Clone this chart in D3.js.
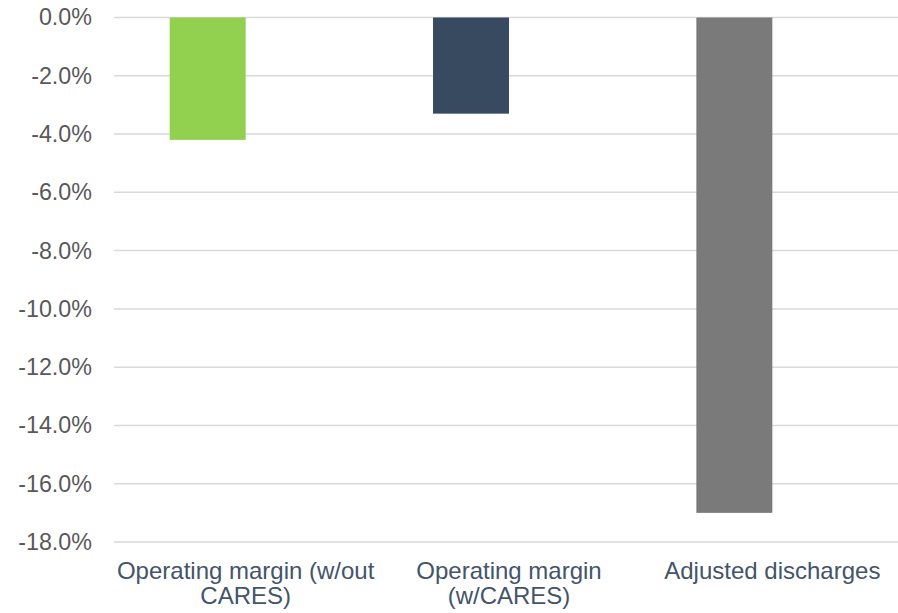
<!DOCTYPE html>
<html>
<head>
<meta charset="utf-8">
<script src="https://cdn.jsdelivr.net/npm/d3@7"></script>
<style>
  html, body { margin: 0; padding: 0; background: #fff; }
  svg { display: block; font-family: "Liberation Sans", Arial, sans-serif; }
</style>
</head>
<body>
<svg id="chart" width="898" height="613"></svg>
<script>
const categories = ["Operating margin (w/out CARES)", "Operating margin (w/CARES)", "Adjusted discharges"];
const categoryLines = [["Operating margin (w/out", "CARES)"], ["Operating margin", "(w/CARES)"], ["Adjusted discharges"]];
const values = [-4.2, -3.3, -17.0];
const colors = ["#92D050", "#374A60", "#7A7A7A"];
const yTicks = [0, -2, -4, -6, -8, -10, -12, -14, -16, -18];

(function () {
  const svg = d3.select("#chart");
  const plotLeft = 114, plotRight = 904, plotTop = 17.5, plotBottom = 542;

  const x = d3.scaleBand().domain(categories).range([plotLeft, plotRight]).paddingInner(0).paddingOuter(0);
  const sub = d3.scaleBand().domain(["s1", "s2"]).range([0, x.bandwidth()]).paddingInner(0).paddingOuter(0.733);
  const y = d3.scaleLinear().domain([-18, 0]).range([plotBottom, plotTop]);

  // gridlines
  svg.append("g").selectAll("line").data(yTicks).join("line")
    .attr("x1", plotLeft).attr("x2", 898)
    .attr("y1", d => y(d)).attr("y2", d => y(d))
    .attr("stroke", "#D9D9D9").attr("stroke-width", 1.5);

  // y axis labels
  const fmt = d3.formatLocale({decimal: ".", thousands: ",", grouping: [3], currency: ["", ""], minus: "-"}).format(".1f");
  const yAxis = d3.axisLeft(y).tickValues(yTicks).tickSize(0).tickPadding(0)
    .tickFormat(d => fmt(d) + "%");
  const gy = svg.append("g").attr("transform", "translate(92,0)").call(yAxis);
  gy.select(".domain").remove();
  gy.selectAll("text").attr("fill", "#595959").style("font-size", "23.3px")
    .style("font-family", "'Liberation Sans', Arial, sans-serif");

  // bars
  svg.append("g").selectAll("rect").data(categories).join("rect")
    .attr("x", d => x(d) + sub("s1"))
    .attr("width", sub.bandwidth())
    .attr("y", (d, i) => y(Math.max(0, values[i])))
    .attr("height", (d, i) => Math.abs(y(values[i]) - y(0)))
    .attr("fill", (d, i) => colors[i]);

  // x labels
  const gx = svg.append("g");
  categories.forEach((c, i) => {
    const cx = x(c) + x.bandwidth() / 2;
    const t = gx.append("text")
      .attr("x", cx)
      .attr("y", 579)
      .attr("text-anchor", "middle")
      .attr("fill", "#44546A")
      .style("font-size", "24px");
    categoryLines[i].forEach((line, j) => {
      t.append("tspan").attr("x", cx).attr("dy", j === 0 ? 0 : 25).text(line);
    });
  });
})();
</script>
</body>
</html>
